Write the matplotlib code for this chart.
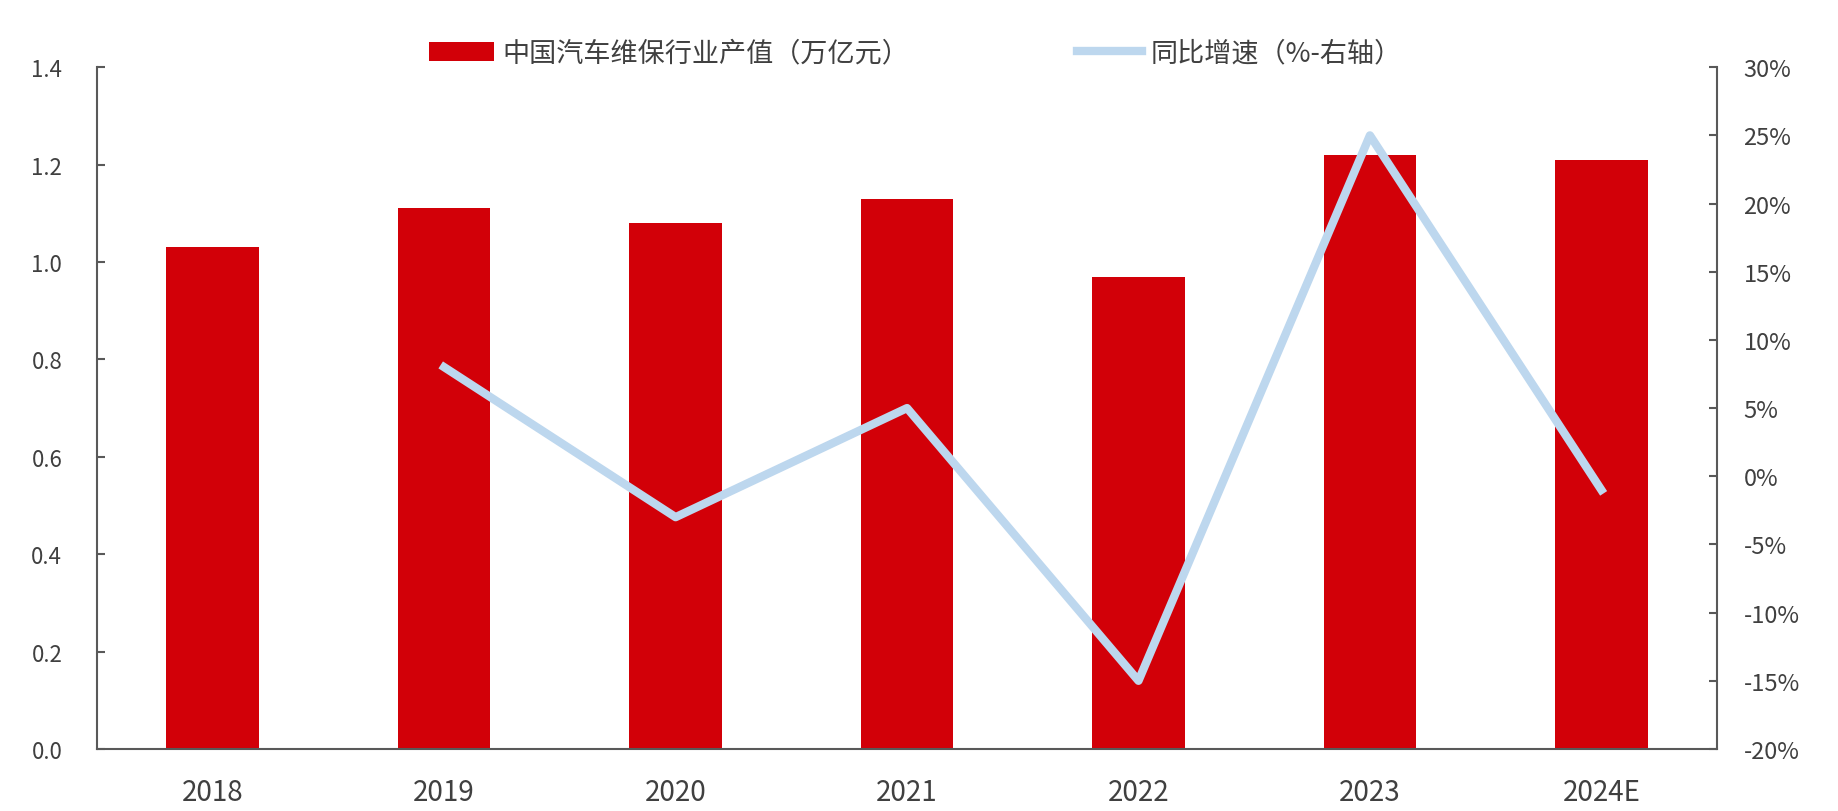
import numpy as np
import matplotlib.pyplot as plt
from matplotlib.ticker import FuncFormatter

plt.rcParams['font.family'] = ['Noto Sans CJK SC', 'DejaVu Sans']

# 数据
years = ['2018', '2019', '2020', '2021', '2022', '2023', '2024E']
output_value = [1.03, 1.11, 1.08, 1.13, 0.97, 1.22, 1.21]   # 万亿元
growth_years = ['2019', '2020', '2021', '2022', '2023', '2024E']
growth = [8, -3, 5, -15, 25, -1]                            # %

bar_label = '中国汽车维保行业产值（万亿元）'
line_label = '同比增速（%-右轴）'

red = '#D20008'
blue = '#BDD7EE'
grey = '#595959'
text_c = '#404040'

fig = plt.figure(figsize=(18.38, 8.12), dpi=100)
ax = fig.add_axes([0.0528, 0.0764, 0.8814, 0.8396])
x = np.arange(len(years))
bars = ax.bar(x, output_value, width=0.4, color=red, label=bar_label, zorder=2)

ax.set_xlim(-0.5, len(years) - 0.5)
ax.set_ylim(0, 1.4)
ax.set_yticks(np.arange(0, 1.41, 0.2))
ax.yaxis.set_major_formatter(FuncFormatter(lambda v, p: f'{v:.1f}'))
ax.set_xticks(x)
ax.set_xticklabels(years)

ax2 = ax.twinx()
gx = [years.index(y) for y in growth_years]
line, = ax2.plot(gx, growth, color=blue, lw=6, label=line_label, zorder=3)
ax2.set_ylim(-20, 30)
ax2.set_yticks(np.arange(-20, 31, 5))
ax2.yaxis.set_major_formatter(FuncFormatter(lambda v, p: f'{v:.0f}%'))

for a in (ax, ax2):
    a.spines['top'].set_visible(False)
    for s in a.spines.values():
        s.set_color(grey)
        s.set_linewidth(1.5)
    a.tick_params(axis='y', direction='in', length=6, width=1.5, color=grey,
                  labelcolor=text_c)
ax.tick_params(axis='y', labelsize=16, pad=25)
ax2.tick_params(axis='y', labelsize=17, pad=19)
ax.tick_params(axis='x', length=0, labelsize=20, labelcolor=text_c, pad=20)
ax2.spines['left'].set_visible(False)
ax.spines['right'].set_visible(False)
ax2.spines['bottom'].set_visible(False)

fig.legend([bars, line], [bar_label, line_label], loc='center',
           bbox_to_anchor=(0.498, 0.933), ncol=2, frameon=False,
           fontsize=19.5, labelcolor=text_c, columnspacing=6.2,
           handlelength=2.4, handletextpad=0.3)

fig.savefig('out.png', dpi=100)
